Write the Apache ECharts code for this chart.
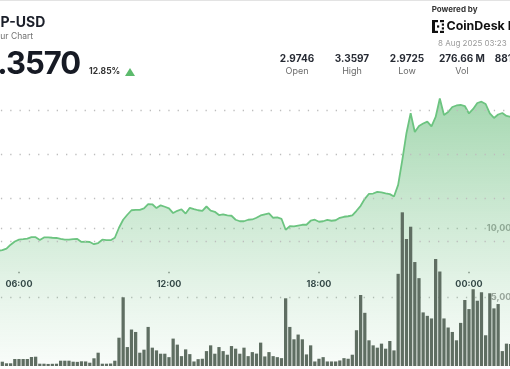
<!DOCTYPE html>
<html><head><meta charset="utf-8">
<script src="https://cdn.jsdelivr.net/npm/echarts@6/dist/echarts.min.js"></script>
<style>
html,body{margin:0;padding:0;width:510px;height:369px;overflow:hidden;background:#fff;font-family:Inter,'Noto Sans',sans-serif;}
#chart{position:absolute;left:-60px;top:0;width:700px;height:369px;}
.t{position:absolute;white-space:nowrap;line-height:1;}
#topline{position:absolute;left:0;top:0;width:510px;height:1px;background:#e3e3e3;}
.stat{position:absolute;width:70px;text-align:center;white-space:nowrap;line-height:1;}
</style></head><body>
<div id="chart"></div>
<div id="topline"></div>
<div class="t" style="left:-19px;top:15.3px;font-size:14px;font-weight:700;color:#1b1f2a;">XRP-USD</div>
<div class="t" style="left:-24px;top:31.7px;font-size:8.5px;color:#707070;">24 Hour Chart</div>
<div class="t" style="left:-21px;top:46.5px;font-size:31px;font-weight:700;letter-spacing:-1px;color:#161a24;">3.3570</div>
<div class="t" style="left:89px;top:67px;font-size:8.5px;font-weight:700;color:#333;">12.85%</div>
<div style="position:absolute;left:125px;top:68px;width:0;height:0;border-left:5px solid transparent;border-right:5px solid transparent;border-bottom:8px solid #5cba6c;"></div>
<div class="t" style="left:431.7px;top:5px;font-size:8px;font-weight:700;color:#333;">Powered by</div>
<svg style="position:absolute;left:432px;top:19.5px" width="12" height="13" viewBox="0 0 12 13">
  <g fill="#111">
    <rect x="0" y="0" width="3" height="13"/><rect x="0" y="0" width="6" height="2.2"/><rect x="0" y="10.8" width="6" height="2.2"/>
    <rect x="8" y="0" width="4" height="2.2"/><rect x="9.8" y="3.5" width="2.2" height="2.2"/><rect x="9.8" y="7.3" width="2.2" height="2.2"/><rect x="8" y="10.8" width="4" height="2.2"/>
    <rect x="5" y="5.4" width="2.2" height="2.2"/>
  </g>
</svg>
<div class="t" style="left:446.5px;top:20.3px;font-size:12.4px;font-weight:700;color:#111;">CoinDesk Data</div>
<div class="t" style="left:438px;top:39px;font-size:8px;color:#9a9a9a;">8 Aug 2025 03:23</div>
<div id="stats"></div>
<script>
// ---- data ----
const statValues = ['2.9746', '3.3597', '2.9725', '276.66 M', '881.97 M'];
const statLabels = ['Open', 'High', 'Low', 'Vol', 'Vol'];
const times = [
 '03:30','03:40','03:50',
 '04:00','04:10','04:20','04:30','04:40','04:50',
 '05:00','05:10','05:20','05:30','05:40','05:50',
 '06:00','06:10','06:20','06:30','06:40','06:50',
 '07:00','07:10','07:20','07:30','07:40','07:50',
 '08:00','08:10','08:20','08:30','08:40','08:50',
 '09:00','09:10','09:20','09:30','09:40','09:50',
 '10:00','10:10','10:20','10:30','10:40','10:50',
 '11:00','11:10','11:20','11:30','11:40','11:50',
 '12:00','12:10','12:20','12:30','12:40','12:50',
 '13:00','13:10','13:20','13:30','13:40','13:50',
 '14:00','14:10','14:20','14:30','14:40','14:50',
 '15:00','15:10','15:20','15:30','15:40','15:50',
 '16:00','16:10','16:20','16:30','16:40','16:50',
 '17:00','17:10','17:20','17:30','17:40','17:50',
 '18:00','18:10','18:20','18:30','18:40','18:50',
 '19:00','19:10','19:20','19:30','19:40','19:50',
 '20:00','20:10','20:20','20:30','20:40','20:50',
 '21:00','21:10','21:20','21:30','21:40','21:50',
 '22:00','22:10','22:20','22:30','22:40','22:50',
 '23:00','23:10','23:20','23:30','23:40','23:50',
 '00:00','00:10','00:20','00:30','00:40','00:50',
 '01:00','01:10','01:20','01:30','01:40','01:50',
 '02:00','02:10','02:20','02:30','02:40','02:50',
 '03:00','03:10','03:20'
];
const timeTickLabels = ['06:00', '12:00', '18:00', '00:00'];
const price = [
 2.9746,2.9762,2.9781,2.9755,2.9725,2.9758,2.9790,2.9772,2.9752,2.9768,2.9790,
 2.9806,2.9840,2.9931,3.0005,3.0046,3.0057,3.0069,3.0103,3.0103,3.0039,
 3.0098,3.0098,3.0091,3.0085,3.0064,3.0046,3.0046,3.0057,3.0064,2.9995,
 3.0000,2.9993,2.9943,2.9970,3.0046,3.0034,3.0034,3.0091,3.0320,3.0503,
 3.0617,3.0720,3.0731,3.0731,3.0765,3.0861,3.0857,3.0770,3.0834,3.0800,
 3.0765,3.0656,3.0708,3.0743,3.0644,3.0777,3.0747,3.0720,3.0708,3.0806,
 3.0713,3.0685,3.0610,3.0628,3.0601,3.0594,3.0503,3.0468,3.0468,3.0503,
 3.0509,3.0548,3.0601,3.0628,3.0647,3.0548,3.0555,3.0525,3.0274,3.0354,
 3.0350,3.0370,3.0388,3.0388,3.0480,3.0503,3.0457,3.0468,3.0498,3.0480,
 3.0491,3.0548,3.0571,3.0583,3.0601,3.0708,3.0822,3.0982,3.1097,3.1103,
 3.1142,3.1131,3.1108,3.1090,3.1035,3.1302,3.1873,3.2490,3.2940,3.2513,
 3.2650,3.2707,3.2748,3.2639,3.2856,3.3279,3.2902,3.2970,3.3084,3.3119,
 3.3130,3.3107,3.2936,3.3039,3.3176,3.3205,3.3153,3.2936,3.2833,3.2913,
 3.2947,3.2879,3.2856,3.2910,3.3005,3.2950,3.3120,3.3250,3.3310,3.3420,
 3.3495,3.3580,3.3570
];
const volume = [
 420,380,510,360,300,450,390,280,330,250,310,
 312,196,196,507,507,507,507,652,674,167,
 167,150,160,167,384,384,384,312,300,340,
 330,239,558,964,167,167,180,384,2050,4978,
 1372,2643,2467,964,1183,2832,1329,1132,891,891,
 642,1986,1548,715,1205,861,329,496,526,1080,
 1497,891,1372,1080,818,1445,1256,891,1329,715,
 1007,900,1694,694,1007,715,642,569,4906,2832,
 1935,2278,1935,840,1497,329,526,642,329,329,
 329,402,569,526,818,2592,5147,3854,1862,1497,
 1329,1621,1256,1810,1131,6680,11137,9202,10094,7534,
 6366,3884,3635,3446,7753,6847,3446,2789,2467,1862,
 3124,4782,4125,5563,4730,5344,2227,5271,4176,4490,
 1080,1621,1595,2900,3400,2600,2100,1800,2400,1900,
 1500,1700,1200
];
const priceGridValues = [3.0, 3.1, 3.2, 3.3];

// ---- stats header ----
const statCenters = [297, 352, 407, 462, 517];
const statsEl = document.getElementById('stats');
statValues.forEach((v, i) => {
  const a = document.createElement('div');
  a.className = 'stat';
  a.style.cssText = `left:${statCenters[i]-35}px;top:52.5px;font-size:10px;font-weight:700;color:#262a33;`;
  a.textContent = v;
  statsEl.appendChild(a);
  const b = document.createElement('div');
  b.className = 'stat';
  b.style.cssText = `left:${statCenters[i]-35}px;top:66px;font-size:9px;color:#6a6a6a;`;
  b.textContent = statLabels[i];
  statsEl.appendChild(b);
});

// ---- chart ----
const chart = echarts.init(document.getElementById('chart'), null, {renderer: 'canvas'});
const dotted = {type: [1.3, 8], color: '#bdbdbd', width: 1.3};
const isTick = (i, v) => timeTickLabels.indexOf(v) >= 0;
chart.setOption({
  animation: false,
  grid: [
    {left: 14.4, width: 600, top: 67, bottom: 5},
    {left: 14.4, width: 600, top: 228, bottom: 3},
    {left: 14.4, width: 600, top: 0, bottom: 97.3}
  ],
  xAxis: [
    {type: 'category', gridIndex: 0, data: times, show: false},
    {type: 'category', gridIndex: 1, data: times, show: false},
    {type: 'category', gridIndex: 2, data: times,
     axisLine: {show: false},
     axisTick: {show: true, alignWithLabel: true, interval: isTick, length: 1.5, lineStyle: {color: '#8a8a8a', width: 1.5}},
     axisLabel: {interval: isTick, margin: 8.5, fontSize: 9, fontWeight: 'bold', color: '#2d3340', fontFamily: 'Inter'},
     splitLine: {show: false}}
  ],
  yAxis: [
    {type: 'value', gridIndex: 0, min: 2.72, max: 3.4, show: false, splitLine: {show: false}},
    {type: 'value', gridIndex: 1, min: 0, max: 10000, interval: 5000, position: 'right',
     axisLine: {show: false}, axisTick: {show: false},
     axisLabel: {inside: true, margin: 37, showMinLabel: false, fontSize: 9, fontWeight: 'bold', color: '#a3a3a3', fontFamily: 'Inter',
       formatter: v => v ? v.toLocaleString('en-US') : ''},
     splitLine: {show: true, showMinLine: false, lineStyle: dotted}},
    {type: 'value', gridIndex: 2, show: false}
  ],
  series: [
    {type: 'line', xAxisIndex: 0, yAxisIndex: 0, data: price, symbol: 'none', z: 2,
     lineStyle: {color: '#6cc480', width: 1.8},
     areaStyle: {color: new echarts.graphic.LinearGradient(0, 0, 0, 1, [
       {offset: 0, color: 'rgba(98,186,118,0.85)'},
       {offset: 0.4, color: 'rgba(98,186,118,0.5)'},
       {offset: 0.75, color: 'rgba(98,186,118,0.22)'},
       {offset: 1, color: 'rgba(98,186,118,0.06)'}
     ])},
     markLine: {silent: true, symbol: 'none', z: 3, label: {show: false}, lineStyle: dotted,
       data: priceGridValues.map(v => ({yAxis: v}))}},
    {type: 'bar', xAxisIndex: 1, yAxisIndex: 1, data: volume, z: 10, clip: false,
     barCategoryGap: '22%', itemStyle: {color: '#5f6e62'}}
  ]
});
</script>
</body></html>
